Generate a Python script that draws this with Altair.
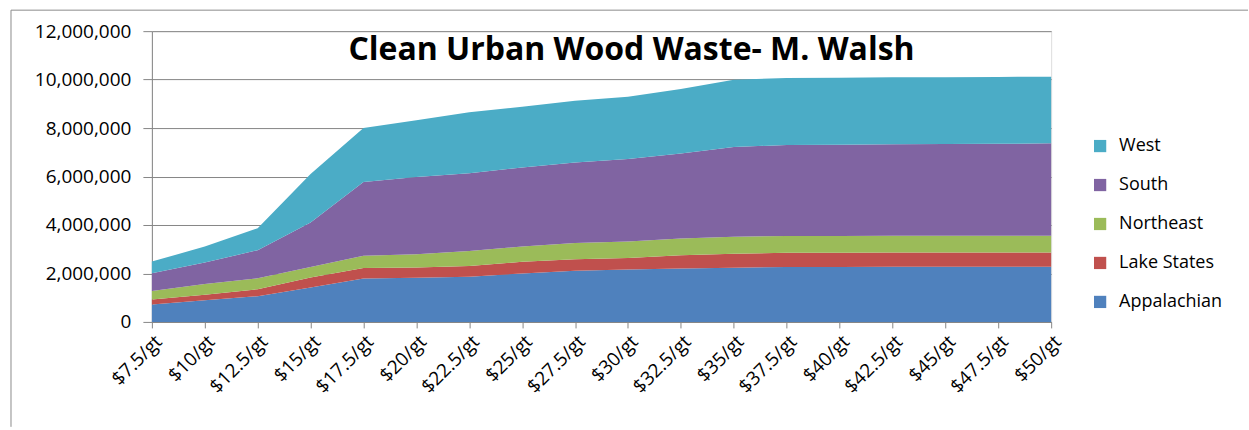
import altair as alt
import pandas as pd

categories = ["$7.5/gt", "$10/gt", "$12.5/gt", "$15/gt", "$17.5/gt", "$20/gt",
              "$22.5/gt", "$25/gt", "$27.5/gt", "$30/gt", "$32.5/gt", "$35/gt",
              "$37.5/gt", "$40/gt", "$42.5/gt", "$45/gt", "$47.5/gt", "$50/gt"]

appalachian = [720000, 890000, 1060000, 1420000, 1790000, 1820000, 1860000, 2000000, 2110000,
               2160000, 2200000, 2240000, 2270000, 2270000, 2280000, 2280000, 2280000, 2280000]
lake_states = [200000, 230000, 290000, 410000, 430000, 430000, 450000, 480000, 480000,
               480000, 550000, 570000, 580000, 580000, 580000, 580000, 580000, 580000]
northeast = [360000, 440000, 450000, 440000, 510000, 540000, 620000, 630000, 670000,
             680000, 690000, 700000, 700000, 700000, 700000, 700000, 700000, 700000]
south = [730000, 890000, 1160000, 1830000, 3040000, 3190000, 3210000, 3260000, 3320000,
         3400000, 3510000, 3710000, 3750000, 3760000, 3770000, 3780000, 3790000, 3810000]
west = [480000, 660000, 910000, 2000000, 2230000, 2340000, 2510000, 2510000, 2550000,
        2570000, 2660000, 2770000, 2770000, 2770000, 2770000, 2760000, 2760000, 2750000]

series_names = ["Appalachian", "Lake States", "Northeast", "South", "West"]
series_values = [appalachian, lake_states, northeast, south, west]
colors = {"West": "#4BACC6", "South": "#8064A2", "Northeast": "#9BBB59",
          "Lake States": "#C0504D", "Appalachian": "#4F81BD"}
legend_order = ["West", "South", "Northeast", "Lake States", "Appalachian"]

rows = []
for si, (name, vals) in enumerate(zip(series_names, series_values)):
    for cat, v in zip(categories, vals):
        rows.append({"price": cat, "region": name, "value": v, "ord": si})
df = pd.DataFrame(rows)

FONT = "Open Sans"

area = alt.Chart(df).mark_area().encode(
    x=alt.X("price:O", sort=categories, title=None,
            scale=alt.Scale(type="point", padding=0),
            axis=alt.Axis(labelAngle=-45, labelFontSize=19, labelFont=FONT,
                          labelColor="#000", tickColor="#868686", domainColor="#868686",
                          tickSize=6, labelPadding=4, grid=False)),
    y=alt.Y("value:Q", stack="zero", title=None,
            scale=alt.Scale(domain=[0, 12000000], nice=False),
            axis=alt.Axis(values=[0, 2000000, 4000000, 6000000, 8000000, 10000000, 12000000],
                          format=",d", labelFontSize=19, labelFont=FONT, labelColor="#000",
                          tickColor="#868686", domainColor="#868686", tickSize=9,
                          labelPadding=12, grid=True, gridColor="#868686", gridWidth=1)),
    color=alt.Color("region:N",
                    scale=alt.Scale(domain=legend_order,
                                    range=[colors[k] for k in legend_order]),
                    legend=alt.Legend(title=None, orient="none", legendX=940, legendY=106,
                                      labelFontSize=18, labelFont=FONT, labelColor="#000",
                                      symbolType="square", symbolSize=150,
                                      symbolStrokeWidth=0, rowPadding=21,
                                      labelOffset=10)),
    order=alt.Order("ord:Q"),
)

one = alt.Data(values=[{}])

title = alt.Chart(one).mark_text(
    text="Clean Urban Wood Waste- M. Walsh", font=FONT, fontSize=32,
    fontWeight="bold", color="#000", align="center", baseline="middle"
).encode(x=alt.value(480), y=alt.value(19))

frame_left = alt.Chart(one).mark_rule(color="#8c8c8c", strokeWidth=1).encode(
    x=alt.value(-141), y=alt.value(-21), y2=alt.value(396))
frame_top = alt.Chart(one).mark_rule(color="#8c8c8c", strokeWidth=1).encode(
    x=alt.value(-141), x2=alt.value(1097), y=alt.value(-21))

chart = alt.layer(area, title, frame_left, frame_top).properties(
    width=900, height=291,
    padding={"left": 10, "top": 9, "right": 0, "bottom": 0},
).configure_view(stroke=None).configure(background="white")

chart.save("out.html", embed_options={"renderer": "svg", "actions": False})
